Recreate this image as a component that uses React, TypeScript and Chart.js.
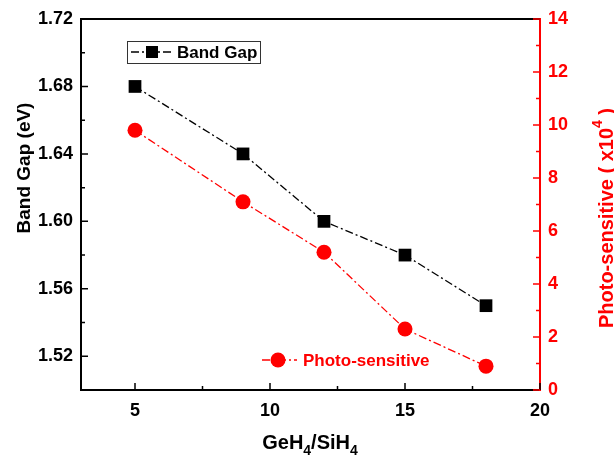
import React, { useEffect, useRef } from "react";
import { Chart, registerables } from "chart.js";
Chart.register(...registerables);

const ratios = [5, 9, 12, 15, 18];
const bandGap = [1.68, 1.64, 1.6, 1.58, 1.55];
const photo = [9.8, 7.1, 5.2, 2.3, 0.9];
const xTicks = [5, 10, 15, 20];
const xMinor = [7.5, 12.5, 17.5];
const leftTicks = [1.52, 1.56, 1.6, 1.64, 1.68, 1.72];
const leftMinor = [1.5, 1.54, 1.58, 1.62, 1.66, 1.7];
const rightTicks = [0, 2, 4, 6, 8, 10, 12, 14];
const rightMinor = [1, 3, 5, 7, 9, 11, 13];

const FONT = '"Liberation Sans", Arial, sans-serif';
const RED = "#ff0000";
const DASH = [8, 3, 2, 3];

const decor = {
  id: "decor",
  afterDraw(chart: any) {
    const { ctx, chartArea: a, scales } = chart;
    const x = scales.x, y = scales.y, y1 = scales.y1;
    ctx.save();
    // top border
    ctx.strokeStyle = "#000";
    ctx.lineWidth = 2;
    ctx.beginPath();
    ctx.moveTo(a.left - 1, a.top);
    ctx.lineTo(a.right, a.top);
    ctx.stroke();
    // ticks
    ctx.lineWidth = 1.5;
    ctx.beginPath();
    leftTicks.forEach((v) => { const p = y.getPixelForValue(v); ctx.moveTo(a.left, p); ctx.lineTo(a.left + 7, p); });
    leftMinor.forEach((v) => { const p = y.getPixelForValue(v); ctx.moveTo(a.left, p); ctx.lineTo(a.left + 4, p); });
    xTicks.forEach((v) => { const p = x.getPixelForValue(v); ctx.moveTo(p, a.bottom); ctx.lineTo(p, a.bottom - 7); });
    xMinor.forEach((v) => { const p = x.getPixelForValue(v); ctx.moveTo(p, a.bottom); ctx.lineTo(p, a.bottom - 4); });
    ctx.stroke();
    ctx.strokeStyle = RED;
    ctx.beginPath();
    rightTicks.forEach((v) => { const p = y1.getPixelForValue(v); ctx.moveTo(a.right, p); ctx.lineTo(a.right - 7, p); });
    rightMinor.forEach((v) => { const p = y1.getPixelForValue(v); ctx.moveTo(a.right, p); ctx.lineTo(a.right - 4, p); });
    ctx.stroke();

    // x title
    ctx.fillStyle = "#000";
    ctx.textBaseline = "alphabetic";
    const big = `bold 20px ${FONT}`, small = `bold 14px ${FONT}`;
    const parts: [string, boolean][] = [["GeH", false], ["4", true], ["/SiH", false], ["4", true]];
    let w = 0;
    parts.forEach(([t, s]) => { ctx.font = s ? small : big; w += ctx.measureText(t).width; });
    let cx = 310 - w / 2;
    const by = 449;
    parts.forEach(([t, s]) => { ctx.font = s ? small : big; ctx.fillText(t, cx, s ? by + 6 : by); cx += ctx.measureText(t).width; });

    // left title
    ctx.save();
    ctx.translate(25, 168);
    ctx.rotate(-Math.PI / 2);
    ctx.font = `bold 19px ${FONT}`;
    ctx.textAlign = "center";
    ctx.textBaseline = "middle";
    ctx.fillText("Band Gap (eV)", 0, 0);
    ctx.restore();

    // right title (reads bottom to top)
    ctx.save();
    ctx.translate(607, 218);
    ctx.rotate(-Math.PI / 2);
    ctx.fillStyle = RED;
    ctx.textBaseline = "middle";
    const rp: [string, boolean][] = [["Photo-sensitive ( x10", false], ["4", true], [" )", false]];
    let rw = 0;
    rp.forEach(([t, s]) => { ctx.font = s ? small : big; rw += ctx.measureText(t).width; });
    let rx = -rw / 2;
    rp.forEach(([t, s]) => { ctx.font = s ? small : big; ctx.fillText(t, rx, s ? -9 : 0); rx += ctx.measureText(t).width; });
    ctx.restore();

    // legend 1 (boxed)
    ctx.strokeStyle = "#333";
    ctx.lineWidth = 1;
    ctx.strokeRect(127.5, 41.5, 133, 22);
    ctx.strokeStyle = "#000";
    ctx.lineWidth = 1.3;
    ctx.setLineDash(DASH);
    ctx.beginPath(); ctx.moveTo(131, 52); ctx.lineTo(174, 52); ctx.stroke();
    ctx.setLineDash([]);
    ctx.fillStyle = "#000";
    ctx.fillRect(146, 46, 12, 12);
    ctx.font = `bold 17px ${FONT}`;
    ctx.textBaseline = "middle";
    ctx.textAlign = "left";
    ctx.fillText("Band Gap", 177, 53);

    // legend 2
    ctx.strokeStyle = RED;
    ctx.setLineDash(DASH);
    ctx.beginPath(); ctx.moveTo(262, 360); ctx.lineTo(297, 360); ctx.stroke();
    ctx.setLineDash([]);
    ctx.fillStyle = RED;
    ctx.beginPath(); ctx.arc(278, 360, 7.5, 0, Math.PI * 2); ctx.fill();
    ctx.fillText("Photo-sensitive", 303, 361);
    ctx.restore();
  },
};

export default function App() {
  const ref = useRef<HTMLCanvasElement | null>(null);
  useEffect(() => {
    document.body.style.margin = "0";
    const chart = new Chart(ref.current as HTMLCanvasElement, {
      type: "line",
      data: {
        datasets: [
          {
            label: "Band Gap",
            data: ratios.map((r, i) => ({ x: r, y: bandGap[i] })),
            yAxisID: "y",
            borderColor: "#000",
            backgroundColor: "#000",
            borderWidth: 1.3,
            borderDash: DASH,
            pointStyle: "rect",
            pointRadius: 9,
            pointBorderWidth: 0,
          },
          {
            label: "Photo-sensitive",
            data: ratios.map((r, i) => ({ x: r, y: photo[i] })),
            yAxisID: "y1",
            borderColor: RED,
            backgroundColor: RED,
            borderWidth: 1.3,
            borderDash: DASH,
            pointStyle: "circle",
            pointRadius: 7.5,
            pointBorderWidth: 0,
          },
        ],
      },
      options: {
        animation: false,
        responsive: false,
        layout: { padding: { top: 19, left: 0, right: 0, bottom: 0 } },
        plugins: { legend: { display: false }, tooltip: { enabled: false } },
        scales: {
          x: {
            type: "linear",
            min: 3,
            max: 20,
            afterBuildTicks: (s: any) => { s.ticks = xTicks.map((v) => ({ value: v })); },
            afterFit: (s: any) => { s.height = 68; },
            grid: { display: false, drawTicks: false },
            border: { display: true, color: "#000", width: 2 },
            ticks: { color: "#000", padding: 10, font: { family: FONT, size: 18, weight: "bold" } },
          },
          y: {
            type: "linear",
            position: "left",
            min: 1.5,
            max: 1.72,
            afterBuildTicks: (s: any) => { s.ticks = leftTicks.map((v) => ({ value: v })); },
            afterFit: (s: any) => { s.width = 81; },
            grid: { display: false, drawTicks: false },
            border: { display: true, color: "#000", width: 2 },
            ticks: { color: "#000", padding: 8, font: { family: FONT, size: 18, weight: "bold" }, callback: (v: any) => Number(v).toFixed(2) },
          },
          y1: {
            type: "linear",
            position: "right",
            min: 0,
            max: 14,
            afterBuildTicks: (s: any) => { s.ticks = rightTicks.map((v) => ({ value: v })); },
            afterFit: (s: any) => { s.width = 74; },
            grid: { display: false, drawTicks: false },
            border: { display: true, color: RED, width: 2 },
            ticks: { color: RED, padding: 8, font: { family: FONT, size: 18, weight: "bold" } },
          },
        },
      },
      plugins: [decor],
    } as any);
    return () => chart.destroy();
  }, []);
  return (
    <div style={{ position: "absolute", left: 0, top: 0, width: 614, height: 458 }}>
      <canvas ref={ref} width={614} height={458} style={{ width: 614, height: 458 }} />
    </div>
  );
}
